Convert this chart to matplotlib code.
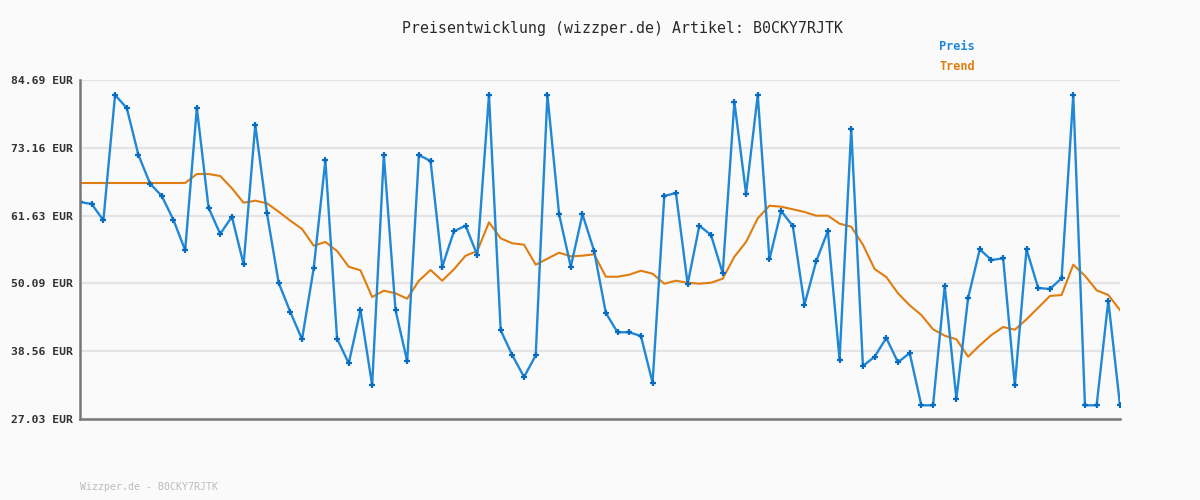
import matplotlib
matplotlib.use("Agg")
import matplotlib.pyplot as plt
import numpy as np

preis = [63.94, 63.60, 60.83, 82.14, 79.93, 71.93, 67.05, 64.96, 60.88, 55.72,
         79.93, 62.97, 58.50, 61.44, 53.34, 77.04, 62.02, 50.21, 45.23, 40.59,
         52.66, 71.03, 40.69, 36.50, 45.57, 32.76, 71.93, 45.57, 36.84, 71.93,
         70.91, 52.93, 58.96, 59.91, 54.87, 82.14, 42.12, 37.86, 34.17, 37.86,
         82.14, 61.85, 52.93, 61.85, 55.60, 45.06, 41.78, 41.78, 41.15, 33.20,
         64.96, 65.47, 49.99, 59.91, 58.33, 51.81, 80.95, 65.35, 82.14, 54.19,
         62.41, 59.86, 46.47, 53.85, 59.01, 37.12, 76.36, 36.04, 37.63, 40.81,
         36.67, 38.26, 29.36, 29.36, 49.65, 30.48, 47.61, 55.89, 54.07, 54.36,
         32.76, 55.89, 49.31, 49.14, 50.96, 82.14, 29.36, 29.36, 47.15, 29.36]

trend = [67.17, 67.17, 67.17, 67.17, 67.17, 67.17, 67.17, 67.17, 67.17, 67.17,
         68.70, 68.70, 68.36, 66.27, 63.82, 64.16, 63.72, 62.29, 60.76, 59.35,
         56.51, 57.14, 55.60, 52.93, 52.32, 47.78, 48.85, 48.41, 47.49, 50.55,
         52.37, 50.55, 52.49, 54.81, 55.60, 60.49, 57.76, 56.91, 56.68, 53.27,
         54.30, 55.32, 54.70, 54.81, 55.04, 51.23, 51.23, 51.57, 52.25, 51.74,
         50.04, 50.55, 50.21, 50.04, 50.21, 50.89, 54.63, 57.14, 61.17, 63.31,
         63.14, 62.70, 62.24, 61.61, 61.61, 60.25, 59.74, 56.68, 52.54, 51.18,
         48.41, 46.37, 44.72, 42.29, 41.20, 40.59, 37.63, 39.56, 41.32, 42.68,
         42.22, 43.99, 45.96, 47.95, 48.12, 53.27, 51.40, 48.92, 48.12, 45.57]

yticks = [27.03, 38.56, 50.09, 61.63, 73.16, 84.69]
title = "Preisentwicklung (wizzper.de) Artikel: B0CKY7RJTK"
footer = "Wizzper.de - B0CKY7RJTK"

BG = "#fafafa"
BLUE = "#2088d6"
MARK = "#0a6cbf"
ORANGE = "#e07d10"
MONO = "DejaVu Sans Mono"

fig = plt.figure(figsize=(12, 5), dpi=100, facecolor=BG)
ax = fig.add_axes([80/1200, 1-419/500, 1040/1200, 339/500], facecolor=BG)

x = np.arange(len(preis))
ax.plot(x, trend, color=ORANGE, lw=1.5, zorder=3)
ax.plot(x, preis, color=BLUE, lw=1.7, zorder=4, marker="+", ms=4.2,
        mew=1.6, mec=MARK)

ax.set_xlim(0, len(preis) - 1)
ax.set_ylim(yticks[0], yticks[-1])
ax.set_yticks(yticks)
ax.set_yticklabels([f"{v:.2f} EUR" for v in yticks], fontfamily=MONO,
                   fontweight="bold", fontsize=8.2, color="#333333")
ax.set_xticks([])
ax.tick_params(axis="y", length=0, pad=5)
ax.grid(axis="y", color="#e4e4e4", lw=1.6, zorder=0)
for s in ["top", "right"]:
    ax.spines[s].set_visible(False)
for s in ["left", "bottom"]:
    ax.spines[s].set_color("#777777")
    ax.spines[s].set_linewidth(1.8)
    ax.spines[s].set_zorder(5)

fig.text(623/1200, 1-28/500, title, ha="center", va="center",
         fontfamily=MONO, fontsize=10.7, color="#2a2a2a")
fig.text(939/1200, 1-47/500, "Preis", ha="left", va="center",
         fontfamily=MONO, fontweight="bold", fontsize=8.6, color=BLUE)
fig.text(939/1200, 1-67/500, "Trend", ha="left", va="center",
         fontfamily=MONO, fontweight="bold", fontsize=8.6, color=ORANGE)
fig.text(80/1200, 1-487/500, footer, ha="left", va="center",
         fontfamily=MONO, fontsize=7.1, color="#bbbbbb")

fig.savefig("out.png", dpi=100, facecolor=BG)
